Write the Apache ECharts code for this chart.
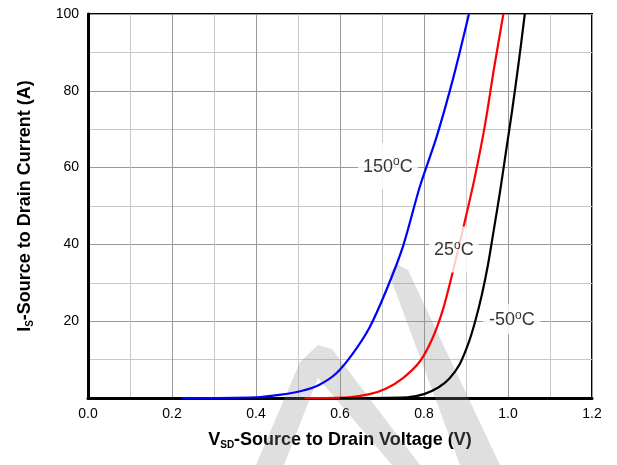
<!DOCTYPE html>
<html>
<head>
<meta charset="utf-8">
<script src="https://cdn.jsdelivr.net/npm/echarts@6/dist/echarts.min.js"></script>
<style>
html,body{margin:0;padding:0;background:#fff;}
#c{width:617px;height:465px;}
</style>
</head>
<body>
<div id="c"></div>
<script>
// ---- data ----
const xTicks = [0.0, 0.2, 0.4, 0.6, 0.8, 1.0, 1.2];
const yTicks = [20, 40, 60, 80, 100];

const v150 = [0.222, 0.40, 0.46, 0.51, 0.55, 0.59, 0.63, 0.67, 0.71, 0.75, 0.79, 0.83, 0.87, 0.907];
const i150 = [0,     0.2,  0.9,  1.9,  3.4,  6.3,  11.5, 18.3, 28.0, 39.5, 55.0, 68.0, 83.5, 100];

const v25 = [0.516, 0.62, 0.67, 0.71, 0.75, 0.79, 0.82, 0.845, 0.87, 0.895, 0.92, 0.945, 0.967, 0.989];
const i25 = [0,     0.2,  1.0,  2.5,  5.2,  9.5,  15.5, 23.0,  33.5, 45.0,  57.0, 71.0,  86.0,  100];

const vM50 = [0.60, 0.76, 0.80, 0.835, 0.86, 0.885, 0.905, 0.922, 0.938, 0.952, 0.965, 0.98, 0.995, 1.01, 1.025, 1.040];
const iM50 = [0,    0.2,  1.0,  2.8,   5.0,  8.8,   14.0,  20.0,  27.0,  34.5,  43.0,  53.0, 64.0,  75.0, 87.0,  100];

const curveNames = ['150', '25', '-50'];
const labelX = [0.714, 0.871, 1.009];
const labelY = [60.4, 38.7, 20.5];

const xTitle = ['V', 'SD', '-Source to Drain Voltage (V)'];
const yTitle = ['I', 'S', '-Source to Drain Current (A)'];

// ---- build ----
const zip = (a, b) => a.map((v, k) => [v, b[k]]);
const chart = echarts.init(document.getElementById('c'), null, {renderer: 'canvas'});
const FONT = 'Liberation Sans, Arial, Helvetica, sans-serif';

const labelData = labelX.map((x, k) => ({value: [x, labelY[k]], name: curveNames[k],
  label: {padding: k === 2 ? [5, 6, 4, 6] : [13, 5, 12, 5]}}));

const curve = (name, v, i, color) => ({
  type: 'line', name, data: zip(v, i), smooth: 0.3,
  showSymbol: false, z: 3, lineStyle: {color, width: 2.2}
});

const option = {
  backgroundColor: '#fff',
  animation: false,
  textStyle: {fontFamily: FONT},
  grid: {left: 88, right: 25, top: 14, bottom: 67, show: true, borderColor: '#000', borderWidth: 2, backgroundColor: 'transparent'},
  graphic: [
    {type: 'polygon', z: 1, silent: true,
     shape: {points: [[389, 274], [397, 264], [408, 270], [500, 465], [460, 465]]},
     style: {fill: 'rgba(140,140,140,0.28)'}},
    {type: 'polygon', z: 1, silent: true,
     shape: {points: [[256, 465], [300, 362], [318, 345], [332, 349], [420, 465], [392, 465], [318, 378], [284, 465]]},
     style: {fill: 'rgba(140,140,140,0.28)'}}
  ],
  xAxis: {
    type: 'value', min: 0, max: 1.2, interval: 0.2,
    name: `{b|${xTitle[0]}}{s|${xTitle[1]}}{b|${xTitle[2]}}`,
    nameLocation: 'middle', nameGap: 33,
    nameTextStyle: {rich: {
      b: {fontSize: 18, fontWeight: 'bold', color: '#000', fontFamily: FONT},
      s: {fontSize: 10, fontWeight: 'bold', color: '#000', fontFamily: FONT, padding: [9, 0, 0, 0]}
    }},
    axisLine: {show: true, lineStyle: {color: '#000', width: 3}},
    axisTick: {show: false},
    axisLabel: {fontSize: 14, color: '#000', margin: 9, fontFamily: FONT,
      formatter: v => xTicks.some(t => Math.abs(t - v) < 1e-6) ? v.toFixed(1) : ''},
    splitLine: {show: true, lineStyle: {color: '#9a9a9a', width: 1}},
    minorTick: {show: false, splitNumber: 2},
    minorSplitLine: {show: true, lineStyle: {color: '#c8c8c8', width: 1}}
  },
  yAxis: {
    type: 'value', min: 0, max: 100, interval: 20,
    name: `{b|${yTitle[0]}}{s|${yTitle[1]}}{b|${yTitle[2]}}`,
    nameLocation: 'middle', nameGap: 53, nameRotate: 90,
    nameTextStyle: {rich: {
      b: {fontSize: 18, fontWeight: 'bold', color: '#000', fontFamily: FONT},
      s: {fontSize: 10, fontWeight: 'bold', color: '#000', fontFamily: FONT, padding: [9, 0, 0, 0]}
    }},
    axisLine: {show: true, lineStyle: {color: '#000', width: 3}},
    axisTick: {show: false},
    axisLabel: {fontSize: 14, color: '#000', margin: 9, fontFamily: FONT,
      formatter: v => yTicks.indexOf(v) >= 0 ? String(v) : ''},
    splitLine: {show: true, lineStyle: {color: '#9a9a9a', width: 1}},
    minorTick: {show: false, splitNumber: 2},
    minorSplitLine: {show: true, lineStyle: {color: '#c8c8c8', width: 1}}
  },
  series: [
    curve('150', v150, i150, '#0000ff'),
    curve('25', v25, i25, '#ff0000'),
    curve('-50', vM50, iM50, '#000000'),
    {type: 'scatter', name: 'labels', data: labelData, symbolSize: 0, z: 10, silent: true,
     label: {show: true, position: 'inside', backgroundColor: '#fff',
       formatter: p => `{t|${p.name}}{o|o}{t|C}`,
       rich: {
         t: {fontSize: 18, color: '#000', fontFamily: FONT},
         o: {fontSize: 12, color: '#000', fontFamily: FONT, padding: [0, 0, 9, 0]}
       }}}
  ]
};
chart.setOption(option);
</script>
</body>
</html>
